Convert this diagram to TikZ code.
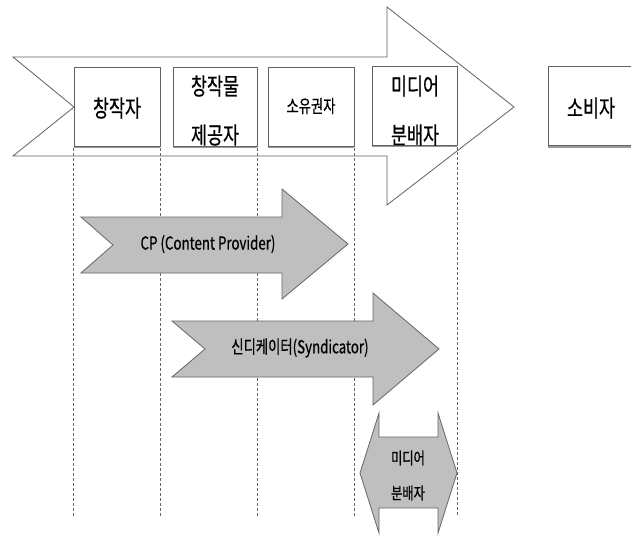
\documentclass[tikz,border=0pt]{standalone}
\usepackage{fontspec}
\newfontfamily\kr[FakeStretch=0.74,FakeBold=0.6]{Noto Sans CJK KR}
\begin{document}
\begin{tikzpicture}[x=1pt,y=-1pt,
  outl/.style={draw=black!62, line width=0.8pt, line join=miter},
  grayarrow/.style={draw=black!60, line width=0.8pt, fill=black!25},
  box/.style={draw=black!62, line width=0.8pt, fill=white, inner sep=0pt, minimum height=79pt},
  shadowline/.style={draw=black!40, line width=1.6pt},
  guide/.style={draw=black!60, line width=0.6pt, dash pattern=on 3pt off 2pt},
  bigtxt/.style={font=\kr\fontsize{23.5}{25}\selectfont, text=black, inner sep=0pt},
  midtxt/.style={font=\kr\fontsize{18}{20}\selectfont, text=black, inner sep=0pt},
  smalltxt/.style={font=\kr\fontsize{16.5}{18}\selectfont, text=black, inner sep=0pt}]
\useasboundingbox (0,0) rectangle (631,538);
\clip (0,0) rectangle (631,538);
\fill[white] (0,0) rectangle (631,538);

% big chevron arrow
\draw[outl, fill=white] (13,57) -- (387,57) -- (387,7) -- (514,107) -- (387,205)
  -- (387,156) -- (13,156) -- (74,107) -- cycle;

% boxes
\node[box, minimum width=86pt] (b1) at (117,106.5) {};
\node[box, minimum width=84pt] (b2) at (215,106.5) {};
\node[box, minimum width=86pt] (b3) at (311,106.5) {};
\node[box, minimum width=85pt] (b4) at (414.5,105.5) {};
\node[box, minimum width=92pt] (b5) at (594,106) {};
\foreach \b in {b1,b2,b3,b4,b5}{
  \draw[shadowline] ([yshift=-1pt]\b.south west) -- ([yshift=-1pt]\b.south east);
}

% box texts
\node[bigtxt] (t1) at (117,108) {창작자};
\node[bigtxt] (t2a) at (215,86) {창작물};
\node[bigtxt] (t2b) at (215,135) {제공자};
\node[midtxt] (t3) at (311,106) {소유권자};
\node[bigtxt] (t4a) at (415,86) {미디어};
\node[bigtxt] (t4b) at (415,135) {분배자};
\node[bigtxt] (t5) at (591,108) {소비자};

% dashed guide lines
\coordinate (bot) at (0,517);
\draw[guide] ([yshift=-2pt]b1.south west) -- (b1.south west |- bot);
\draw[guide] ([yshift=-2pt]b1.south east) -- (b1.south east |- bot);
\draw[guide] ([yshift=-2pt]b2.south east) -- (b2.south east |- bot);
\draw[guide] ([yshift=-2pt]b3.south east) -- (b3.south east |- bot);
\draw[guide] ([yshift=-2pt]b4.south east) -- (b4.south east |- bot);

% CP arrow
\draw[grayarrow] (81,217) -- (282,217) -- (282,189) -- (348,244) -- (282,299)
  -- (282,273) -- (81,273) -- (113,245) -- cycle;
\node[midtxt] (cp) at (208,244) {CP (Content Provider)};

% Syndicator arrow
\draw[grayarrow] (172,321) -- (373,321) -- (373,293) -- (439,349) -- (373,405)
  -- (373,377) -- (172,377) -- (205,349) -- cycle;
\node[midtxt] (syn) at (300,348) {신디케이터(Syndicator)};

% media distributor double arrow
\draw[grayarrow] (360,473) -- (379,413) -- (379,437) -- (438,437) -- (438,413)
  -- (457,473) -- (438,533) -- (438,508) -- (379,508) -- (379,533) -- cycle;
\node[smalltxt] (m1) at (408,458) {미디어};
\node[smalltxt] (m2) at (408,493) {분배자};
\end{tikzpicture}
\end{document}
